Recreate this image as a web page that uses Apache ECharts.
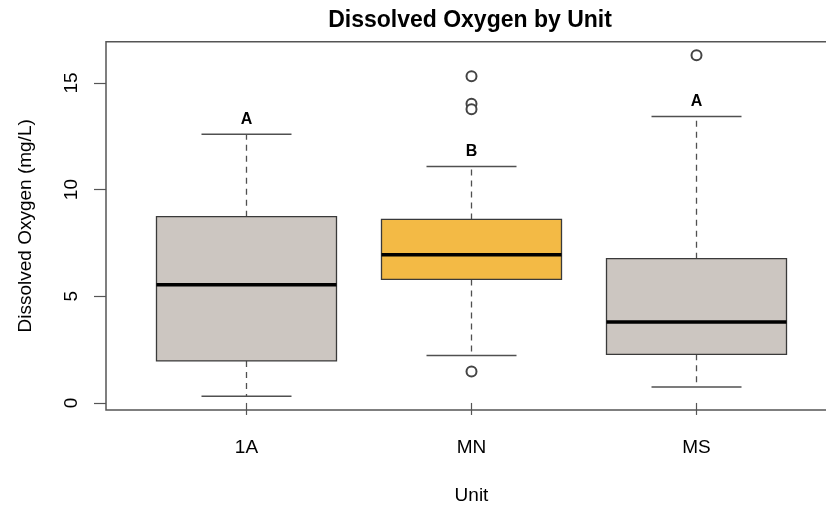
<!DOCTYPE html>
<html>
<head>
<meta charset="utf-8">
<script src="https://cdn.jsdelivr.net/npm/echarts@6/dist/echarts.min.js"></script>
<style>html,body{margin:0;padding:0;background:#fff;}#c{width:826px;height:508px;}</style>
</head>
<body>
<div id="c"></div>
<script>
const categories = ['1A', 'MN', 'MS'];
const lowWhisker = [0.31, 2.22, 0.75];
const q1 = [1.97, 5.79, 2.28];
const median = [5.54, 6.95, 3.79];
const q3 = [8.73, 8.60, 6.76];
const highWhisker = [12.59, 11.08, 13.42];
const outliers = [[2, 15.31], [2, 14.02], [2, 13.76], [2, 1.47], [3, 16.29]];
const letters = ['A', 'B', 'A'];
const yTicks = [0, 5, 10, 15];
const fills = ['#CCC6C1', '#F3BA45', '#CCC6C1'];

const FONT = '"Liberation Sans", Arial, sans-serif';
const boxData = categories.map((c, i) => [i + 1, lowWhisker[i], q1[i], median[i], q3[i], highWhisker[i], i]);

const chart = echarts.init(document.getElementById('c'), null, {renderer: 'canvas'});
chart.setOption({
  animation: false,
  backgroundColor: '#fff',
  title: {
    text: 'Dissolved Oxygen by Unit',
    left: 465, top: 4, textAlign: 'center',
    textStyle: {fontFamily: FONT, fontSize: 23, fontWeight: 'bold', color: '#000'}
  },
  grid: {left: 106, top: 41.7, width: 731, height: 368.3, show: true, borderColor: '#555', borderWidth: 1.5,
    backgroundColor: 'transparent', outerBoundsMode: 'none', containLabel: false},
  xAxis: {
    type: 'value', min: 0.3756, max: 3.6244,
    name: 'Unit', nameLocation: 'middle', nameGap: 76,
    nameTextStyle: {fontFamily: FONT, fontSize: 19, color: '#000'},
    axisLine: {show: false},
    splitLine: {show: false},
    axisTick: {show: true, customValues: [1, 2, 3], length: 12, lineStyle: {color: '#555', width: 1.2}},
    axisLabel: {customValues: [1, 2, 3], margin: 28, formatter: v => categories[Math.round(v) - 1] || '',
      fontFamily: FONT, fontSize: 19, color: '#000'}
  },
  yAxis: {
    type: 'value', min: -0.33, max: 16.93,
    name: 'Dissolved Oxygen (mg/L)', nameLocation: 'middle', nameGap: 71,
    nameTextStyle: {fontFamily: FONT, fontSize: 19, color: '#000'},
    axisLine: {show: false},
    splitLine: {show: false},
    axisTick: {show: true, customValues: yTicks, length: 12, lineStyle: {color: '#555', width: 1.2}},
    axisLabel: {customValues: yTicks, rotate: 90, margin: 25, fontFamily: FONT, fontSize: 19, color: '#000',
      align: 'center', verticalAlign: 'bottom'}
  },
  series: [
    {
      type: 'custom',
      data: boxData,
      clip: false,
      renderItem: function (params, api) {
        const x = api.value(0);
        const i = api.value(6);
        const pLow = api.coord([x, api.value(1)]);
        const pQ1 = api.coord([x, api.value(2)]);
        const pMed = api.coord([x, api.value(3)]);
        const pQ3 = api.coord([x, api.value(4)]);
        const pHigh = api.coord([x, api.value(5)]);
        const half = api.size([0.8, 0])[0] / 2;
        const cx = pMed[0];
        const capHalf = half / 2;
        const lineC = '#505050';
        return {
          type: 'group',
          children: [
            {type: 'line', shape: {x1: cx, y1: pQ3[1], x2: cx, y2: pHigh[1]}, style: {stroke: lineC, lineWidth: 1.3, lineDash: [6, 5]}},
            {type: 'line', shape: {x1: cx, y1: pQ1[1], x2: cx, y2: pLow[1]}, style: {stroke: lineC, lineWidth: 1.3, lineDash: [6, 5]}},
            {type: 'line', shape: {x1: cx - capHalf, y1: pHigh[1], x2: cx + capHalf, y2: pHigh[1]}, style: {stroke: lineC, lineWidth: 1.5}},
            {type: 'line', shape: {x1: cx - capHalf, y1: pLow[1], x2: cx + capHalf, y2: pLow[1]}, style: {stroke: lineC, lineWidth: 1.5}},
            {type: 'rect', shape: {x: cx - half, y: pQ3[1], width: 2 * half, height: pQ1[1] - pQ3[1]}, style: {fill: fills[i], stroke: '#3a3a3a', lineWidth: 1.3}},
            {type: 'line', shape: {x1: cx - half, y1: pMed[1], x2: cx + half, y2: pMed[1]}, style: {stroke: '#000', lineWidth: 3.5}},
            {type: 'text', x: cx, y: pHigh[1] - 15, style: {text: letters[i], x: 0, y: 0, align: 'center', verticalAlign: 'middle',
              font: 'bold 16px ' + FONT, fill: '#000'}}
          ]
        };
      }
    },
    {
      type: 'scatter',
      data: outliers,
      symbol: 'emptyCircle',
      symbolSize: 10,
      itemStyle: {color: '#444', borderColor: '#444', borderWidth: 1, opacity: 1}
    }
  ]
});
</script>
</body>
</html>
